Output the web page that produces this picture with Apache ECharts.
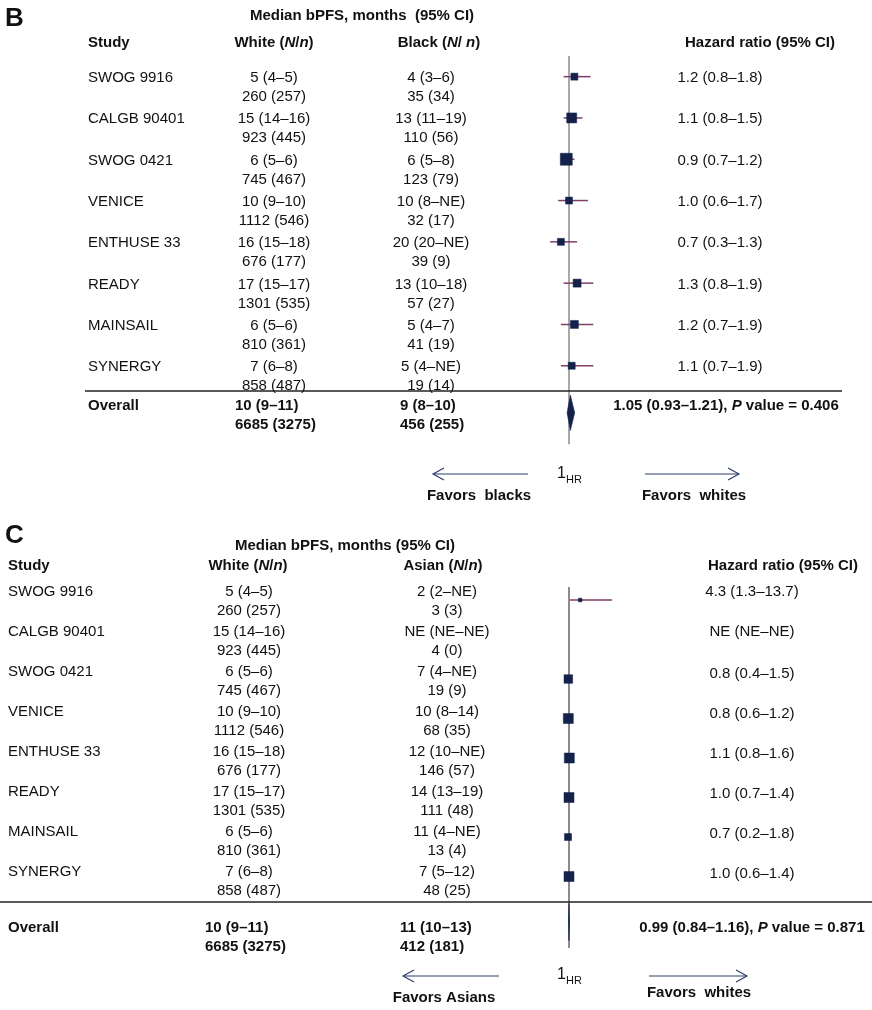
<!DOCTYPE html>
<html>
<head>
<meta charset="utf-8">
<script src="https://cdn.jsdelivr.net/npm/echarts@6/dist/echarts.min.js"></script>
<style>
  html, body { margin: 0; padding: 0; background: #ffffff; }
  #chart { width: 872px; height: 1010px; }
</style>
</head>
<body>
<div id="chart"></div>
<script>
// ---------------- DATA ----------------
const studies = ['SWOG 9916', 'CALGB 90401', 'SWOG 0421', 'VENICE', 'ENTHUSE 33', 'READY', 'MAINSAIL', 'SYNERGY'];

const whiteMedian = ['5 (4–5)', '15 (14–16)', '6 (5–6)', '10 (9–10)', '16 (15–18)', '17 (15–17)', '6 (5–6)', '7 (6–8)'];
const whiteN = ['260 (257)', '923 (445)', '745 (467)', '1112 (546)', '676 (177)', '1301 (535)', '810 (361)', '858 (487)'];
const whiteOverall = ['10 (9–11)', '6685 (3275)'];

// Panel B: White vs Black
const blackMedian = ['4 (3–6)', '13 (11–19)', '6 (5–8)', '10 (8–NE)', '20 (20–NE)', '13 (10–18)', '5 (4–7)', '5 (4–NE)'];
const blackN = ['35 (34)', '110 (56)', '123 (79)', '32 (17)', '39 (9)', '57 (27)', '41 (19)', '19 (14)'];
const blackOverall = ['9 (8–10)', '456 (255)'];
const bHR = [1.2, 1.1, 0.9, 1.0, 0.7, 1.3, 1.2, 1.1];
const bLo = [0.8, 0.8, 0.7, 0.6, 0.3, 0.8, 0.7, 0.7];
const bHi = [1.8, 1.5, 1.2, 1.7, 1.3, 1.9, 1.9, 1.9];
const bWeight = [3.5, 5, 6, 3.5, 3.5, 4, 4, 3.5];
const bOverall = { hr: 1.05, lo: 0.93, hi: 1.21, p: '0.406' };

// Panel C: White vs Asian
const asianMedian = ['2 (2–NE)', 'NE (NE–NE)', '7 (4–NE)', '10 (8–14)', '12 (10–NE)', '14 (13–19)', '11 (4–NE)', '7 (5–12)'];
const asianN = ['3 (3)', '4 (0)', '19 (9)', '68 (35)', '146 (57)', '111 (48)', '13 (4)', '48 (25)'];
const asianOverall = ['11 (10–13)', '412 (181)'];
const cHR = [4.3, null, 0.8, 0.8, 1.1, 1.0, 0.7, 1.0];
const cLo = [1.3, null, 0.4, 0.6, 0.8, 0.7, 0.2, 0.6];
const cHi = [13.7, null, 1.5, 1.2, 1.6, 1.4, 1.8, 1.4];
const cWeight = [1.8, null, 4.3, 5, 5, 5, 3.5, 5];
const cOverall = { hr: 0.99, lo: 0.84, hi: 1.16, p: '0.871' };

// ---------------- STYLE / LAYOUT ----------------
const FAM = '"Liberation Sans", Arial, Helvetica, sans-serif';
const FS = 15;
const INK = '#111111';
const NAVY = '#13214b';
const CI_COLOR = '#7e3f66';
const REF_COLOR = '#8c8c8c';
const ARROW = '#2f3d70';

function fmtCI(hr, lo, hi) {
  if (hr == null) return 'NE (NE–NE)';
  return hr.toFixed(1) + ' (' + lo.toFixed(1) + '–' + hi.toFixed(1) + ')';
}

const graphics = [];
function txt(x, y, text, o) {
  o = o || {};
  graphics.push({
    type: 'text', x: x, y: y, silent: true, z: 10,
    style: {
      text: text,
      fill: INK,
      fontFamily: FAM,
      fontSize: o.size || FS,
      fontWeight: o.bold ? 'bold' : 'normal',
      fontStyle: o.italic ? 'italic' : 'normal',
      align: o.align || 'left', textAlign: o.align || 'left',
      verticalAlign: 'middle', textVerticalAlign: 'middle',
      rich: o.rich
    }
  });
}
const richBold = {
  b: { fontFamily: FAM, fontSize: FS, fontWeight: 'bold', fill: INK },
  bi: { fontFamily: FAM, fontSize: FS, fontWeight: 'bold', fontStyle: 'italic', fill: INK }
};
function hline(x1, x2, y, w) {
  graphics.push({ type: 'line', silent: true, z: 5,
    shape: { x1: x1, y1: y, x2: x2, y2: y },
    style: { stroke: '#222', lineWidth: w || 1.3 } });
}
function arrow(x1, x2, y, dir) {
  graphics.push({ type: 'line', silent: true,
    shape: { x1: x1, y1: y, x2: x2, y2: y },
    style: { stroke: ARROW, lineWidth: 1.2 } });
  const tip = dir < 0 ? x1 : x2;
  const back = dir < 0 ? tip + 11 : tip - 11;
  graphics.push({ type: 'polyline', silent: true,
    shape: { points: [[back, y - 6], [tip, y], [back, y + 6]] },
    style: { stroke: ARROW, lineWidth: 1.2, fill: null } });
}

// ---------- Panel B texts ----------
txt(5, 19, 'B', { bold: true, size: 26 });
txt(362, 16, 'Median bPFS, months  (95% CI)', { bold: true, align: 'center' });
txt(88, 43, 'Study', { bold: true });
txt(274, 43, '{b|White (}{bi|N}{b|/}{bi|n}{b|)}', { align: 'center', rich: richBold });
txt(439, 43, '{b|Black (}{bi|N}{b|/ }{bi|n}{b|)}', { align: 'center', rich: richBold });
txt(760, 43, 'Hazard ratio (95% CI)', { bold: true, align: 'center' });
const bRowY0 = 78, bStep = 41.3;
studies.forEach(function (s, i) {
  const y = bRowY0 + bStep * i;
  txt(88, y, s);
  txt(274, y, whiteMedian[i], { align: 'center' });
  txt(274, y + 19, whiteN[i], { align: 'center' });
  txt(431, y, blackMedian[i], { align: 'center' });
  txt(431, y + 19, blackN[i], { align: 'center' });
  txt(720, y, fmtCI(bHR[i], bLo[i], bHi[i]), { align: 'center' });
});
hline(85, 842, 391);
txt(88, 406, 'Overall', { bold: true });
txt(235, 406, whiteOverall[0], { bold: true });
txt(235, 425, whiteOverall[1], { bold: true });
txt(400, 406, blackOverall[0], { bold: true });
txt(400, 425, blackOverall[1], { bold: true });
txt(726, 406, '{b|' + bOverall.hr.toFixed(2) + ' (' + bOverall.lo.toFixed(2) + '–' + bOverall.hi.toFixed(2) + '), }{bi|P}{b| value = ' + bOverall.p + '}', { align: 'center', rich: richBold });
arrow(433, 528, 474, -1);
arrow(645, 739, 474, 1);
txt(557, 474, '1', { size: 16 });
txt(566, 480, 'HR', { size: 11 });
txt(479, 496, 'Favors  blacks', { bold: true, align: 'center' });
txt(694, 496, 'Favors  whites', { bold: true, align: 'center' });

// ---------- Panel C texts ----------
txt(5, 536, 'C', { bold: true, size: 26 });
txt(345, 546, 'Median bPFS, months (95% CI)', { bold: true, align: 'center' });
txt(8, 566, 'Study', { bold: true });
txt(248, 566, '{b|White (}{bi|N}{b|/}{bi|n}{b|)}', { align: 'center', rich: richBold });
txt(443, 566, '{b|Asian (}{bi|N}{b|/}{bi|n}{b|)}', { align: 'center', rich: richBold });
txt(783, 566, 'Hazard ratio (95% CI)', { bold: true, align: 'center' });
const cRowY0 = 592, cStep = 40;
studies.forEach(function (s, i) {
  const y = cRowY0 + cStep * i;
  txt(8, y, s);
  txt(249, y, whiteMedian[i], { align: 'center' });
  txt(249, y + 19, whiteN[i], { align: 'center' });
  txt(447, y, asianMedian[i], { align: 'center' });
  txt(447, y + 19, asianN[i], { align: 'center' });
  txt(752, y + (i >= 2 ? 2 : 0), fmtCI(cHR[i], cLo[i], cHi[i]), { align: 'center' });
});
hline(0, 872, 902);
txt(8, 928, 'Overall', { bold: true });
txt(205, 928, whiteOverall[0], { bold: true });
txt(205, 947, whiteOverall[1], { bold: true });
txt(400, 928, asianOverall[0], { bold: true });
txt(400, 947, asianOverall[1], { bold: true });
txt(752, 928, '{b|' + cOverall.hr.toFixed(2) + ' (' + cOverall.lo.toFixed(2) + '–' + cOverall.hi.toFixed(2) + '), }{bi|P}{b| value = ' + cOverall.p + '}', { align: 'center', rich: richBold });
arrow(403, 499, 976, -1);
arrow(649, 747, 976, 1);
txt(557, 975, '1', { size: 16 });
txt(566, 981, 'HR', { size: 11 });
txt(444, 998, 'Favors Asians', { bold: true, align: 'center' });
txt(699, 993, 'Favors  whites', { bold: true, align: 'center' });

// ---------------- SERIES DATA ----------------
const bRows = bHR.map(function (h, i) { return [h, bLo[i], bHi[i], i, bWeight[i]]; });
const cRows = [];
cHR.forEach(function (h, i) { if (h != null) cRows.push([h, cLo[i], cHi[i], i, cWeight[i]]); });

function renderRow(params, api) {
  const hr = api.value(0), lo = api.value(1), hi = api.value(2), row = api.value(3), w = api.value(4);
  const pL = api.coord([lo, row]);
  const pR = api.coord([hi, row]);
  const pC = api.coord([hr, row]);
  const s = w * 2;
  return {
    type: 'group',
    children: [
      { type: 'line', shape: { x1: pL[0], y1: pL[1], x2: pR[0], y2: pR[1] },
        style: { stroke: CI_COLOR, lineWidth: 1.5 } },
      { type: 'rect', shape: { x: pC[0] - s / 2, y: pC[1] - s / 2, width: s, height: s },
        style: { fill: NAVY, stroke: NAVY, lineWidth: 0.5 } }
    ]
  };
}
function makeDiamond(half) {
  return function (params, api) {
    const hr = api.value(0), lo = api.value(1), hi = api.value(2), row = api.value(3);
    const top = api.coord([hr, row - half]);
    const bot = api.coord([hr, row + half]);
    const l = api.coord([lo, row]);
    const r = api.coord([hi, row]);
    return {
      type: 'polygon',
      shape: { points: [l, top, r, bot] },
      style: { fill: NAVY, stroke: NAVY, lineWidth: 0.6 }
    };
  };
}

const bOverallRow = 8.14, cOverallRow = 8.15;

const option = {
  animation: false,
  backgroundColor: '#ffffff',
  grid: [
    { left: 542, width: 81, top: 56, height: 388.2 },
    { left: 565.6, width: 51, top: 587, height: 361 }
  ],
  xAxis: [
    { type: 'value', gridIndex: 0, min: 0, max: 3, show: false },
    { type: 'value', gridIndex: 1, min: 0, max: 15, show: false }
  ],
  yAxis: [
    { type: 'value', gridIndex: 0, min: -0.5, max: 8.9, inverse: true, show: false },
    { type: 'value', gridIndex: 1, min: -0.33, max: 8.81, inverse: true, show: false }
  ],
  series: [
    { type: 'line', xAxisIndex: 0, yAxisIndex: 0, data: [[1, -0.5], [1, 8.9]], symbol: 'none', silent: true,
      lineStyle: { color: REF_COLOR, width: 1.5 }, z: 1 },
    { type: 'custom', xAxisIndex: 0, yAxisIndex: 0, data: bRows, renderItem: renderRow, silent: true, z: 3,
      encode: { x: [0, 1, 2], y: 3 } },
    { type: 'custom', xAxisIndex: 0, yAxisIndex: 0, silent: true, z: 3,
      data: [[bOverall.hr, bOverall.lo, bOverall.hi, bOverallRow]], renderItem: makeDiamond(0.43),
      encode: { x: [0, 1, 2], y: 3 } },

    { type: 'line', xAxisIndex: 1, yAxisIndex: 1, data: [[1, -0.33], [1, 8.81]], symbol: 'none', silent: true,
      lineStyle: { color: REF_COLOR, width: 2 }, z: 1 },
    { type: 'custom', xAxisIndex: 1, yAxisIndex: 1, data: cRows, renderItem: renderRow, silent: true, z: 3,
      encode: { x: [0, 1, 2], y: 3 } },
    { type: 'custom', xAxisIndex: 1, yAxisIndex: 1, silent: true, z: 3,
      data: [[cOverall.hr, cOverall.lo, cOverall.hi, cOverallRow]], renderItem: makeDiamond(0.47),
      encode: { x: [0, 1, 2], y: 3 } }
  ],
  graphic: graphics
};

const chart = echarts.init(document.getElementById('chart'), null, { renderer: 'canvas' });
chart.setOption(option);
</script>
</body>
</html>
